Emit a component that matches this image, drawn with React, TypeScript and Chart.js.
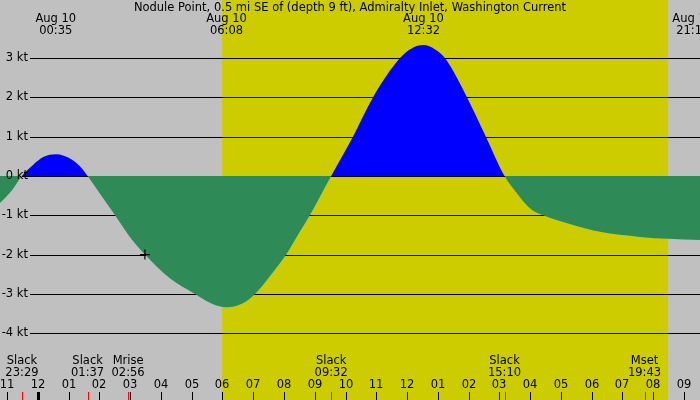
import { useEffect, useRef } from "react"
import { Chart, registerables } from "chart.js"
Chart.register(...registerables)

const TITLE = "Nodule Point, 0.5 mi SE of (depth 9 ft), Admiralty Inlet, Washington Current"

// time in hours from midnight Aug 10, current speed in knots (+ flood / - ebb)
const HOURS = [
  -1.23, -0.84, -0.517, -0.157, 0.177, 0.583, 1.1, 1.425, 1.617, 2.02, 2.51, 2.99, 3.48,
  4.29, 5.11, 5.66, 6.13, 6.63, 7.06, 7.54, 8.07, 8.45, 8.84, 9.533, 10.24, 10.89,
  11.77, 12.16, 12.53, 12.91, 13.23, 13.95, 14.56, 15.167, 15.57, 15.99, 16.42, 17.29,
  18.27, 19.57, 20.48, 21.52,
]
const SPEED = [
  -0.69, -0.36, 0, 0.28, 0.48, 0.55, 0.42, 0.2, 0, -0.45, -1.0, -1.55, -2.0,
  -2.6, -3.0, -3.25, -3.34, -3.25, -3.0, -2.55, -2.0, -1.5, -1.0, 0, 1.0, 2.0,
  3.0, 3.25, 3.33, 3.22, 3.0, 2.0, 1.0, 0, -0.44, -0.82, -1.0, -1.22,
  -1.42, -1.55, -1.6, -1.63,
]

const Y_TICKS = [-4, -3, -2, -1, 0, 1, 2, 3]
const HOUR_TICKS = [-1, 0, 1, 2, 3, 4, 5, 6, 7, 8, 9, 10, 11, 12, 13, 14, 15, 16, 17, 18, 19, 20, 21]
const HOUR_LABELS = ["11", "12", "01", "02", "03", "04", "05", "06", "07", "08", "09", "10", "11", "12", "01", "02", "03", "04", "05", "06", "07", "08", "09"]

const PEAK_HOURS = [0.583, 6.133, 12.533, 21.283]
const PEAK_DATES = ["Aug 10", "Aug 10", "Aug 10", "Aug 10"]
const PEAK_TIMES = ["00:35", "06:08", "12:32", "21:17"]

const EVENT_HOURS = [-0.517, 1.617, 2.933, 9.533, 15.167, 19.717]
const EVENT_NAMES = ["Slack", "Slack", "Mrise", "Slack", "Slack", "Mset"]
const EVENT_TIMES = ["23:29", "01:37", "02:56", "09:32", "15:10", "19:43"]

const SUNRISE = 6.0
const SUNSET = 20.48
const NOW_MARK = { x: 3.48, y: -2 }

const GRAY = "#c0c0c0"
const YELLOW = "#cccc00"
const FONT = "11.5px 'DejaVu Sans', sans-serif"

const decor = {
  id: "decor",
  beforeDraw(chart: Chart) {
    const { ctx, width, height } = chart
    const x = chart.scales.x
    ctx.save()
    ctx.fillStyle = GRAY
    ctx.fillRect(0, 0, width, height)
    const x0 = Math.round(x.getPixelForValue(SUNRISE))
    const x1 = Math.round(x.getPixelForValue(SUNSET))
    ctx.fillStyle = YELLOW
    ctx.fillRect(x0, 0, x1 - x0, height)
    ctx.restore()
  },
  beforeDatasetsDraw(chart: Chart) {
    const { ctx, width } = chart
    const y = chart.scales.y
    ctx.save()
    ctx.strokeStyle = "#000"
    ctx.lineWidth = 1
    Y_TICKS.forEach(t => {
      const py = Math.round(y.getPixelForValue(t)) + 0.5
      ctx.beginPath()
      ctx.moveTo(30, py)
      ctx.lineTo(width, py)
      ctx.stroke()
    })
    ctx.restore()
  },
  afterDatasetsDraw(chart: Chart) {
    const { ctx, width, height } = chart
    const x = chart.scales.x
    const y = chart.scales.y
    ctx.save()
    // zero line stays visible under the flood fill
    const py0 = Math.round(y.getPixelForValue(0)) + 0.5
    ctx.strokeStyle = "#000"
    ctx.lineWidth = 1
    for (let i = 0; i < HOURS.length - 1; i++) {
      if (SPEED[i] >= 0 && SPEED[i + 1] >= 0 && (SPEED[i] > 0 || SPEED[i + 1] > 0)) {
        ctx.beginPath()
        ctx.moveTo(x.getPixelForValue(HOURS[i]), py0)
        ctx.lineTo(x.getPixelForValue(HOURS[i + 1]), py0)
        ctx.stroke()
      }
    }

    ctx.fillStyle = "#000"
    ctx.font = FONT
    ctx.textBaseline = "middle"
    ctx.textAlign = "right"
    Y_TICKS.forEach(t => {
      ctx.fillText(`${t} kt`, 28, Math.round(y.getPixelForValue(t)) + 0.5)
    })

    ctx.textAlign = "center"
    ctx.fillText(TITLE, width / 2, 8)

    PEAK_HOURS.forEach((h, i) => {
      const px = x.getPixelForValue(h)
      ctx.fillText(PEAK_DATES[i], px, 19)
      ctx.fillText(PEAK_TIMES[i], px, 31)
    })

    EVENT_HOURS.forEach((h, i) => {
      const px = x.getPixelForValue(h)
      ctx.fillText(EVENT_NAMES[i], px, 361)
      ctx.fillText(EVENT_TIMES[i], px, 373)
    })

    HOUR_TICKS.forEach((h, i) => {
      const px = Math.round(x.getPixelForValue(h))
      ctx.fillText(HOUR_LABELS[i], px, 385)
      if (h === 0) ctx.fillRect(px - 1, 392, 3, height - 392)
      else ctx.fillRect(px, 392, 1, height - 392)
    })

    ctx.fillStyle = "#ff0000"
    EVENT_HOURS.forEach(h => {
      const px = Math.round(x.getPixelForValue(h))
      ctx.fillRect(px, 392, 1, height - 392)
    })
    ctx.restore()
  },
}

function CurrentChart() {
  const ref = useRef<HTMLCanvasElement>(null)
  useEffect(() => {
    if (!ref.current) return
    const chart = new Chart(ref.current, {
      type: "line",
      data: {
        datasets: [
          {
            data: HOURS.map((h, i) => ({ x: h, y: SPEED[i] })),
            borderWidth: 0,
            borderColor: "rgba(0,0,0,0)",
            pointRadius: 0,
            fill: { target: "origin", above: "#0000ff", below: "#2e8b57" },
            cubicInterpolationMode: "monotone",
            order: 2,
          },
          {
            type: "scatter",
            data: [NOW_MARK],
            pointStyle: "cross",
            pointRadius: 5,
            borderColor: "#000",
            borderWidth: 1.2,
            order: 1,
          },
        ],
      },
      options: {
        responsive: false,
        animation: false,
        devicePixelRatio: 1,
        layout: { padding: 0, autoPadding: false },
        plugins: { legend: { display: false }, tooltip: { enabled: false } },
        scales: {
          x: { type: "linear", min: -1.23, max: 21.52, display: false },
          y: { type: "linear", min: -5.7, max: 4.478, display: false },
        },
      },
      plugins: [decor],
    })
    return () => chart.destroy()
  }, [])
  return <canvas ref={ref} width={700} height={400} />
}

export default function App() {
  return (
    <div style={{ position: "fixed", left: 0, top: 0, width: 700, height: 400 }}>
      <CurrentChart />
    </div>
  )
}
